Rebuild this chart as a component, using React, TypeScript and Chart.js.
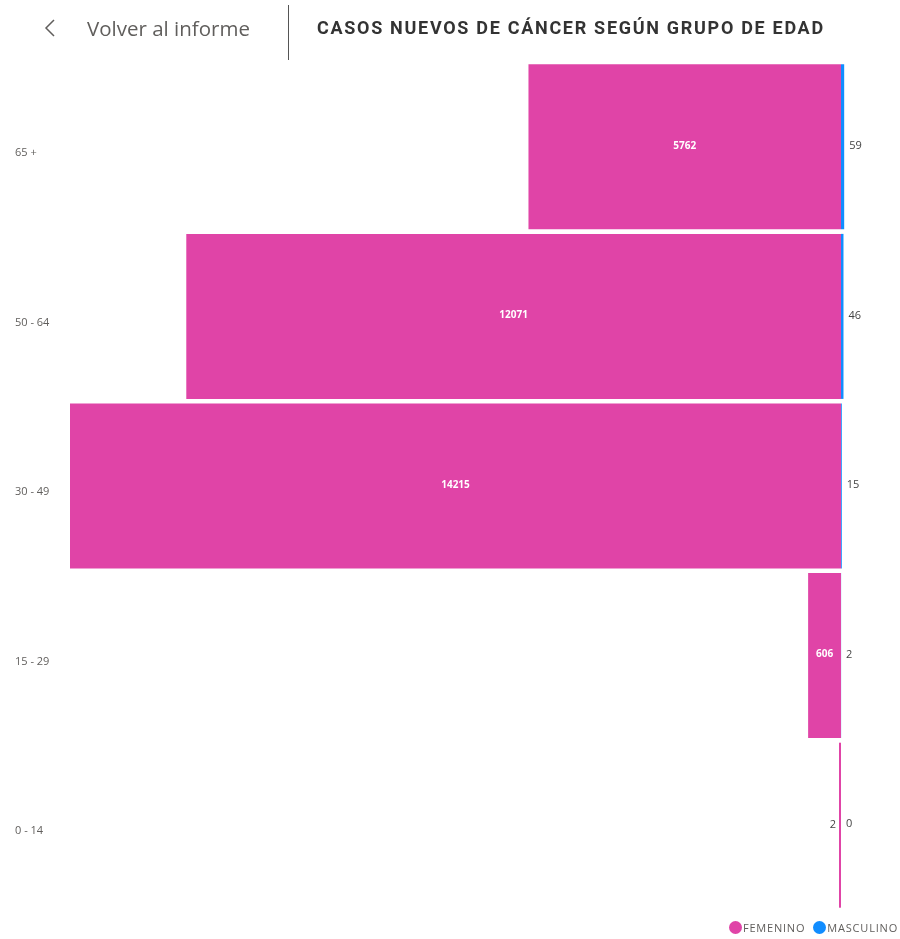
import React, { useEffect, useRef } from "react";
import { Chart, registerables } from "chart.js";

Chart.register(...registerables);

const categories = ["65 +", "50 - 64", "30 - 49", "15 - 29", "0 - 14"];
const femenino = [5762, 12071, 14215, 606, 2];
const masculino = [59, 46, 15, 2, 0];
const seriesNames = ["FEMENINO", "MASCULINO"];
const seriesColors = ["#E044A7", "#118DFF"];
const xMin = -14215;
const xMax = 74;

const labelPlugin = {
  id: "valueLabels",
  afterDatasetsDraw(chart: any) {
    const ctx = chart.ctx;
    const xs = chart.scales.x;
    const zero = xs.getPixelForValue(0);
    ctx.save();
    ctx.textBaseline = "middle";
    const fem = chart.getDatasetMeta(0);
    const mas = chart.getDatasetMeta(1);
    fem.data.forEach((bar: any, i: number) => {
      const v = femenino[i];
      const w = zero - bar.x;
      const text = String(v);
      ctx.font = "bold 10px 'Open Sans', sans-serif";
      const tw = ctx.measureText(text).width;
      if (w > tw + 6) {
        ctx.fillStyle = "#ffffff";
        ctx.textAlign = "center";
        ctx.fillText(text, (bar.x + zero) / 2, bar.y - 1);
      } else {
        ctx.font = "11px 'Open Sans', sans-serif";
        ctx.fillStyle = "#444444";
        ctx.textAlign = "right";
        ctx.fillText(text, bar.x - 3, bar.y);
      }
    });
    mas.data.forEach((bar: any, i: number) => {
      ctx.font = "11px 'Open Sans', sans-serif";
      ctx.fillStyle = "#444444";
      ctx.textAlign = "left";
      ctx.fillText(String(masculino[i]), Math.max(bar.x, zero) + 5, bar.y - 1);
    });
    ctx.restore();
  },
};

function BarChart() {
  const ref = useRef<HTMLCanvasElement>(null);
  useEffect(() => {
    if (!ref.current) return;
    const chart = new Chart(ref.current, {
      type: "bar",
      data: {
        labels: categories,
        datasets: [
          {
            label: seriesNames[0],
            data: femenino.map((v) => -v),
            backgroundColor: seriesColors[0],
            borderWidth: 0,
            minBarLength: 2,
            barPercentage: 1,
            categoryPercentage: 0.973,
          },
          {
            label: seriesNames[1],
            data: masculino,
            backgroundColor: seriesColors[1],
            borderWidth: 0,
            barPercentage: 1,
            categoryPercentage: 0.973,
          },
        ],
      },
      options: {
        indexAxis: "y",
        animation: false,
        responsive: false,
        maintainAspectRatio: false,
        layout: { padding: { left: 15, right: 55, top: 62, bottom: 29 } },
        plugins: {
          legend: { display: false },
          tooltip: { enabled: false },
        },
        scales: {
          x: {
            stacked: true,
            min: xMin,
            max: xMax,
            display: false,
          },
          y: {
            stacked: true,
            grid: { display: false },
            border: { display: false },
            ticks: {
              crossAlign: "far",
              labelOffset: 6,
              color: "#605e5c",
              font: { family: "'Open Sans', sans-serif", size: 11 },
            },
            afterFit: (scale: any) => {
              scale.width = 55;
            },
          },
        },
      },
      plugins: [labelPlugin],
    });
    return () => chart.destroy();
  }, []);
  return <canvas ref={ref} width={900} height={939} style={{ position: "absolute", left: 0, top: 0 }} />;
}

export default function App() {
  return (
    <div style={{ position: "absolute", left: 0, top: 0, width: 900, height: 939, background: "#fff", overflow: "hidden" }}>
      <BarChart />
      <svg style={{ position: "absolute", left: 44, top: 19 }} width={12} height={20}>
        <polyline points="10,1 2,9 10,17" fill="none" stroke="#605e5c" strokeWidth={1.5} />
      </svg>
      <div style={{ position: "absolute", left: 87, top: 14, fontFamily: "'Open Sans', sans-serif", fontSize: 20.5, color: "#605e5c", lineHeight: "28px", whiteSpace: "nowrap" }}>
        Volver al informe
      </div>
      <div style={{ position: "absolute", left: 288, top: 5, width: 1, height: 55, background: "#555" }} />
      <div style={{ position: "absolute", left: 317, top: 14, fontFamily: "Roboto, sans-serif", fontWeight: 700, fontSize: 18, color: "#333", letterSpacing: 1.7, lineHeight: "28px", whiteSpace: "nowrap" }}>
        CASOS NUEVOS DE CÁNCER SEGÚN GRUPO DE EDAD
      </div>
      <div style={{ position: "absolute", right: 2, top: 920, display: "flex", alignItems: "center", fontFamily: "'Open Sans', sans-serif", fontSize: 11, letterSpacing: 0.8, color: "#605e5c", whiteSpace: "nowrap" }}>
        {seriesNames.map((n, i) => (
          <span key={n} style={{ display: "flex", alignItems: "center", marginLeft: i ? 8 : 0 }}>
            <span style={{ width: 13, height: 13, borderRadius: 7, background: seriesColors[i], display: "inline-block", marginRight: 1 }} />
            {n}
          </span>
        ))}
      </div>
    </div>
  );
}
